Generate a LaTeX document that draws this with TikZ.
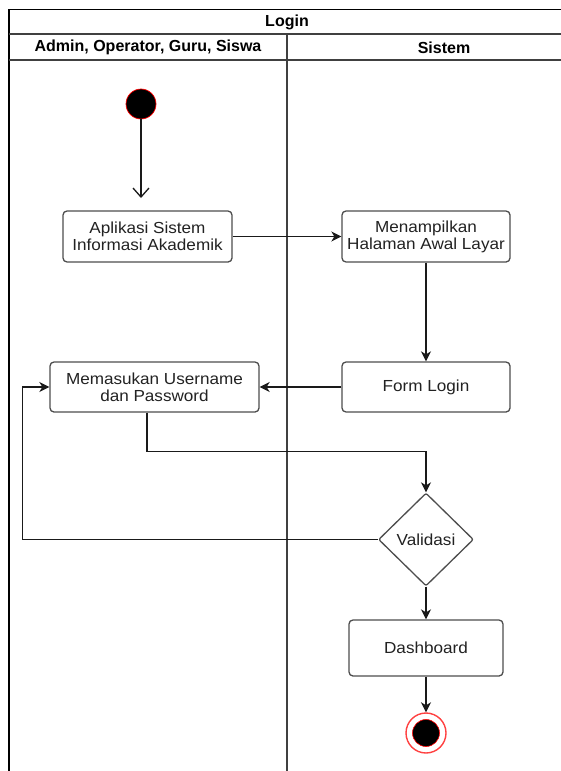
\documentclass[tikz,border=0pt]{standalone}
\usepackage{fontspec}
\setmainfont{Liberation Sans}
\newfontfamily\nodefont[FakeStretch=1.07]{Liberation Sans}
\usetikzlibrary{arrows.meta,shapes.geometric}
\definecolor{edgec}{HTML}{1A1A1A}
\definecolor{boxc}{HTML}{4D4D4D}
\definecolor{txtc}{HTML}{222222}
\begin{document}
\begin{tikzpicture}[x=1pt,y=-1pt,
  frameline/.style={line width=1.3pt, draw=black},
  lanetitle/.style={font=\bfseries\fontsize{16}{18}\selectfont, text=black, inner sep=0pt},
  actbox/.style={rectangle, rounded corners=4pt, draw=boxc, line width=1.3pt, fill=white,
    align=center, inner sep=2pt, text=txtc, font=\nodefont\fontsize{16}{17}\selectfont},
  decbox/.style={diamond, aspect=1, draw=boxc, line width=1.3pt, fill=white, rounded corners=2pt,
    inner sep=0pt, minimum width=95pt, minimum height=93pt, text=txtc,
    font=\nodefont\fontsize{16}{17}\selectfont},
  flow/.style={draw=edgec, line width=1.5pt, -{Stealth[length=10pt,width=10pt,inset=3pt]}},
  openflow/.style={draw=edgec, line width=1.3pt, -{Straight Barb[length=9pt,width=16pt,line width=1.3pt]}},
  startdot/.style={circle, fill=black, draw=red, line width=0.7pt, minimum size=30pt, inner sep=0pt},
  endring/.style={circle, draw=red!75, line width=1.4pt, fill=white, minimum size=40pt, inner sep=0pt},
  enddot/.style={circle, fill=black, draw=red, line width=0.6pt, minimum size=27pt, inner sep=0pt}
]
\useasboundingbox (0,0) rectangle (560,771);
% swimlane frame
\draw[frameline] (575,9.5) -- (9,9.5) -- (9,785);
\draw[frameline, draw=black!75] (9,34) -- (575,34);
\draw[frameline, draw=black!75] (9,60) -- (575,60);
\draw[frameline, draw=black!75] (287,34) -- (287,785);
\node[lanetitle] (ttl) at (287,22) {Login};
\node[lanetitle] (lane1) at (148,47.5) {Admin, Operator, Guru, Siswa};
\node[lanetitle] (lane2) at (444,47.5) {Sistem};

% nodes
\node[startdot] (start) at (141,104) {};
\coordinate (starttip) at (141,198);
\node[actbox, minimum width=169pt, minimum height=51pt] (app) at (147.5,236.5) {Aplikasi Sistem\\Informasi Akademik};
\node[actbox, minimum width=168pt, minimum height=51pt] (show) at (426,236.5) {Menampilkan\\Halaman Awal Layar};
\node[actbox, minimum width=168pt, minimum height=50pt] (form) at (426,387) {Form Login};
\node[actbox, minimum width=209pt, minimum height=50pt] (input) at (154.5,387) {Memasukan Username\\dan Password};
\node[decbox] (valid) at (426,539.5) {Validasi};
\node[actbox, minimum width=154pt, minimum height=56pt] (dash) at (426,648) {Dashboard};
\node[endring] (endr) at (426,733) {};
\node[enddot] (endd) at (426,733) {};
\coordinate (loop) at (22.5,539.5);

% connectors
\draw[openflow] (start) -- (starttip);
\draw[flow] (app) -- (show);
\draw[flow] (show) -- (form);
\draw[flow] (form) -- (input);
\draw[flow] ([xshift=-7.5pt]input.south) -- ++(0,39) -| (valid.north);
\draw[flow] (valid.west) -- (loop) |- (input.west);
\draw[flow] (valid) -- (dash);
\draw[flow] (dash) -- (endr);
\end{tikzpicture}
\end{document}
